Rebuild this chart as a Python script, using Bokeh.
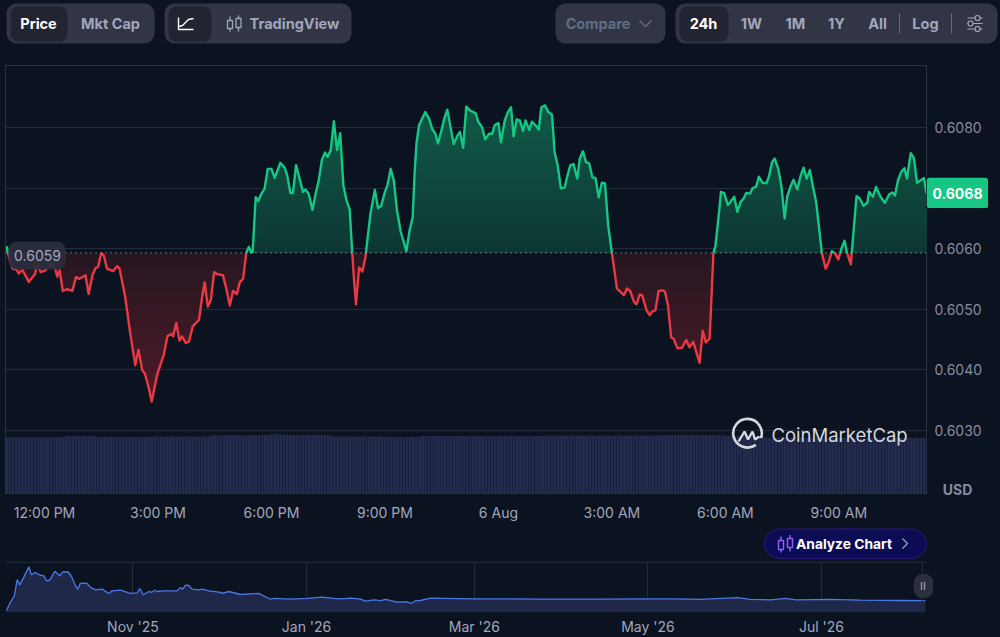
from bokeh.embed import file_html
from bokeh.resources import INLINE
from bokeh.plotting import figure
from bokeh.layouts import column
from bokeh.models import (Range1d, FixedTicker, NumeralTickFormatter, Span, Label, BoxAnnotation)
from bokeh.core.properties import value
import numpy as np

BG = "#0c1320"
FONT = "Inter"

# ---------- data ----------
base_price = 0.60593
last_price = "0.6068"
base_label = "0.6059"
price_ticks = [0.6030, 0.6040, 0.6050, 0.6060, 0.6070, 0.6080]
time_ticks = [0, 180, 360, 540, 720, 900, 1080, 1260]
time_labels = ["12:00 PM", "3:00 PM", "6:00 PM", "9:00 PM", "6 Aug", "3:00 AM", "6:00 AM", "9:00 AM"]
overview_ticks = [0, 61, 120, 181, 242]
overview_labels = ["Nov '25", "Jan '26", "Mar '26", "May '26", "Jul '26"]

price_minutes = [
    -60, -58, -51, -44, -41, -35, -25, -15, -12, -6, 1, 10, 17, 20, 24, 29, 36, 44, 50, 55, 65, 70, 76, 81, 85, 90, 94,
    99, 109, 115, 119, 128, 136, 144, 149, 155, 159, 165, 170, 179, 189, 195, 201, 204, 209, 214, 218, 224, 229, 235,
    240, 245, 250, 254, 259, 264, 269, 274, 283, 289, 294, 299, 305, 310, 315, 320, 324, 328, 330, 335, 339, 344, 349,
    354, 360, 365, 374, 381, 385, 390, 394, 399, 410, 414, 419, 425, 430, 435, 440, 445, 449, 454, 459, 464, 469, 474,
    479, 484, 488, 491, 494, 499, 504, 509, 517, 524, 529, 534, 540, 544, 549, 554, 559, 565, 574, 579, 584, 587, 590,
    594, 604, 610, 615, 620, 624, 629, 634, 639, 644, 649, 655, 659, 664, 669, 676, 684, 688, 694, 699, 705, 710, 714,
    720, 724, 730, 735, 740, 744, 749, 754, 759, 763, 769, 773, 779, 784, 788, 794, 799, 805, 809, 814, 819, 825, 829,
    834, 839, 845, 849, 854, 859, 864, 869, 874, 879, 884, 889, 894, 900, 908, 919, 924, 929, 935, 939, 944, 948, 955,
    960, 964, 969, 974, 980, 984, 989, 994, 998, 1004, 1011, 1018, 1023, 1029, 1039, 1044, 1049, 1055, 1061, 1064, 1070,
    1073, 1078, 1084, 1094, 1099, 1104, 1109, 1113, 1119, 1123, 1129, 1133, 1139, 1145, 1149, 1154, 1158, 1164, 1169,
    1174, 1178, 1183, 1188, 1194, 1199, 1204, 1209, 1214, 1219, 1224, 1233, 1239, 1244, 1249, 1254, 1259, 1264, 1269,
    1273, 1279, 1283, 1288, 1293, 1299, 1305, 1308, 1314, 1319, 1326, 1333, 1340, 1345, 1349, 1354, 1359, 1364, 1368,
    1374, 1379, 1384, 1395, 1399]
price_values = [
    .60604, .60592, .60567, .60565, .60559, .60565, .60545, .60558, .60575, .60561, .60564, .60575, .60567, .60554,
    .60564, .60530, .60533, .60530, .60553, .60550, .60556, .60525, .60556, .60568, .60570, .60593, .60589, .60567,
    .60563, .60571, .60567, .60520, .60460, .60407, .60433, .60399, .60394, .60371, .60347, .60393, .60424, .60455,
    .60459, .60455, .60477, .60448, .60455, .60444, .60446, .60471, .60477, .60482, .60520, .60544, .60504, .60516,
    .60561, .60558, .60556, .60531, .60506, .60530, .60525, .60545, .60550, .60593, .60603, .60594, .60593, .60685,
    .60679, .60691, .60699, .60732, .60732, .60717, .60742, .60734, .60721, .60692, .60692, .60738, .60694, .60698,
    .60691, .60664, .60691, .60713, .60747, .60759, .60752, .60763, .60811, .60763, .60791, .60705, .60680, .60665,
    .60595, .60548, .60508, .60569, .60562, .60586, .60658, .60697, .60667, .60671, .60694, .60705, .60732, .60713,
    .60664, .60628, .60596, .60630, .60652, .60724, .60774, .60804, .60826, .60815, .60798, .60790, .60774, .60793,
    .60815, .60830, .60801, .60773, .60787, .60793, .60767, .60835, .60828, .60824, .60810, .60801, .60781, .60790,
    .60790, .60804, .60808, .60776, .60812, .60826, .60834, .60786, .60814, .60812, .60795, .60812, .60796, .60810,
    .60804, .60797, .60834, .60837, .60826, .60822, .60760, .60738, .60700, .60701, .60719, .60738, .60740, .60716,
    .60749, .60761, .60743, .60741, .60718, .60717, .60685, .60709, .60708, .60639, .60593, .60534, .60523, .60534,
    .60530, .60512, .60508, .60524, .60523, .60498, .60490, .60496, .60498, .60530, .60531, .60529, .60506, .60453,
    .60451, .60435, .60436, .60449, .60437, .60446, .60411, .60464, .60445, .60451, .60593, .60603, .60661, .60694,
    .60692, .60672, .60686, .60661, .60677, .60683, .60692, .60691, .60700, .60703, .60719, .60709, .60708, .60719,
    .60743, .60749, .60732, .60702, .60650, .60686, .60702, .60714, .60698, .60719, .60734, .60716, .60730, .60702,
    .60677, .60593, .60567, .60578, .60596, .60592, .60582, .60600, .60613, .60593, .60574, .60625, .60687, .60683,
    .60671, .60676, .60694, .60686, .60702, .60686, .60676, .60690, .60693, .60688, .60714, .60727, .60733, .60716,
    .60758, .60750, .60709, .60717, .60691]

volume_start_minute = -60
volume_step_minutes = 5
volumes = [
    56.3, 56.2, 56.3, 56.4, 56.3, 56.2, 56.3, 56.3, 56.4, 56.3, 56.2, 56.3, 56.4, 56.3, 56.3, 56.2, 56.3, 56.4, 56.5,
    57.3, 57.4, 57.3, 57.2, 57.3, 57.3, 57.4, 57.3, 57.2, 57.2,
    56.5, 56.6, 56.5, 56.4, 56.5, 56.5, 56.6, 56.5, 56.4, 56.5, 56.6, 56.5, 56.5, 56.4, 56.5, 56.6, 56.6,
    57.0, 57.1, 57.0, 56.9, 57.0, 57.1, 57.0, 57.0, 56.9, 57.0, 57.1, 57.0, 57.2, 57.0, 57.1, 57.0, 56.9, 57.0, 57.3,
    58.2, 58.3, 58.2, 58.1, 58.2, 58.3, 58.2, 58.2, 58.3, 58.2, 58.1, 58.2, 58.3, 58.2, 58.4, 58.2, 58.3, 58.5, 58.6,
    59.0, 59.4, 58.9, 59.3, 58.9,
    58.5, 58.6, 58.5, 58.4, 58.5, 58.5, 58.6, 58.5, 58.4, 58.5, 58.6, 58.5, 58.3, 58.4, 58.0,
    57.0, 57.1, 57.0, 56.9, 57.0, 57.1, 57.0, 57.0, 56.9, 57.0, 57.1, 57.0, 56.9, 57.0, 57.1, 57.0, 56.8,
    56.5, 56.4, 56.5, 56.6, 56.5, 56.4, 56.5, 56.6, 56.5, 56.7, 57.0,
    57.5, 57.6, 57.5, 57.4, 57.5, 57.6, 57.5, 57.5, 57.4, 57.5, 57.6, 57.5, 57.4, 57.5,
    57.3, 57.2, 57.3, 57.4, 57.3, 57.2, 57.3, 57.3, 57.4, 57.3, 57.2, 57.3, 57.4, 57.3, 57.3, 57.2, 57.3, 57.4, 57.3,
    57.2, 57.3, 57.3, 57.4, 57.5, 57.6,
    58.0, 58.1, 58.0, 57.9, 58.0, 58.1, 58.0, 58.0, 57.9, 58.0, 58.1, 58.0, 58.0, 57.9, 58.0, 58.1, 58.0, 58.0, 57.9,
    58.0, 58.1, 58.0, 58.0, 57.9, 58.0, 58.1, 58.0, 58.0, 57.9, 58.0, 58.1, 58.0, 58.0, 57.9, 58.0, 58.1, 58.2, 58.3,
    58.5, 58.6, 58.5, 58.4, 58.5, 58.6, 58.5, 58.5, 58.4, 58.5, 58.6, 58.5, 58.4, 58.3, 58.4, 58.3, 58.2, 58.2, 58.1,
    58.0, 58.0, 57.9,
    57.5, 57.6, 57.5, 57.4, 57.5, 57.5, 57.4, 57.3, 57.2, 57.0,
    55.7, 55.8, 55.7, 55.6, 55.7, 55.7, 55.8, 55.7, 55.6, 55.7, 55.8, 55.7, 55.7, 55.6, 55.7, 55.8, 55.7, 55.7, 55.6,
    55.7, 55.8, 55.7, 55.7, 55.6, 55.7, 55.8, 55.7, 55.7, 55.6, 55.7, 55.8, 55.7, 55.7, 55.6, 55.7, 55.8, 55.7, 55.7,
    55.6, 55.7, 55.8, 55.7, 55.7, 55.6, 55.7, 55.8, 55.7, 55.7, 55.6, 55.7, 55.8, 55.7]

overview_days = [
    -44.5, -43.1, -41.7, -40.7, -39.8, -38.4, -36.6, -35.7, -34.5, -32.7, -31.3, -30.4, -29.2, -27.5, -25.7, -24.7,
    -22.8, -21.6, -20.2, -19.4, -18.5, -16.3, -14.9, -13.2, -10.8, -8.5, -7.3, -4.4, -0.9, 1.5, 2.4, 3.6, 5.6, 6.5, 7.7,
    8.5, 10.8, 15.5, 16.7, 17.5, 18.5, 19.6, 20.8, 23.1, 24.3, 26.7, 30.8, 31.3, 33.7, 37.8, 44.2, 48.3, 49.5, 55.4,
    61.2, 66.5, 70.6, 73.5, 76.5, 80.0, 81.7, 84.7, 87.0, 88.8, 92.8, 96.4, 97.8, 99.3, 101, 104.6, 109.3, 119.8, 129.2,
    143, 164, 182, 190.7, 199.5, 212.5, 217, 224, 229.3, 233, 245, 255.7, 269.8, 278.5]
overview_prices = [
    .08, .47, .78, 1.54, 1.29, 1.64, 2.13, 1.76, 1.87, 1.75, 1.71, 1.48, 1.51, 1.92, 1.71, 1.90, 1.89, 1.68, 1.25, 1.09,
    1.36, 1.37, 1.17, 1.06, 1.09, .89, 1.01, 1.04, .89, .92, 1.12, .83, .98, .94, 1.04, .98, 1.01, 1.01, 1.17, 1.09,
    1.28, 1.26, 1.09, 1.06, 1.09, 1.01, .94, .89, .98, .84, .89, .62, .66, .62, .66, .72, .66, .64, .67, .62, .53, .59,
    .55, .61, .48, .50, .42, .55, .56, .67, .66, .64, .64, .62, .62, .64, .64, .61, .69, .61, .59, .66, .59, .61, .58,
    .56, .55]


def chrome_figure(x0, x1, y0, y1, page_bottom=None):
    """A figure in page pixels; page_bottom lifts it over what was laid out before it."""
    kw = {}
    if page_bottom is not None:
        kw["margin"] = (y0 - page_bottom, 0, page_bottom - y1, x0)
    f = figure(width=x1 - x0, height=y1 - y0, x_range=Range1d(x0, x1), y_range=Range1d(y1, y0),
               x_axis_type=None, y_axis_type=None, output_backend="svg", toolbar_location=None, min_border=0,
               background_fill_color=BG, border_fill_color=BG, outline_line_color=BG, outline_line_width=2, **kw)
    f.grid.visible = False
    return f


def chrome_text(f, x, y, text, color, size="14.5px", style="bold", align="center"):
    f.text([x], [y], text=[text], text_color=color, text_font=value(FONT), text_font_size=size,
           text_font_style=style, text_align=align, text_baseline="middle")


def rounded(f, l, r, t, b, color, radius=8, **kw):
    f.quad(left=[l], right=[r], top=[t], bottom=[b], fill_color=color, line_color=kw.pop("line", None),
           border_radius=radius, **kw)


# ---------- top control bar ----------
top = chrome_figure(0, 1000, 0, 60)
PILL, ACTIVE, MUTED = "#323546", "#222531", "#a1a7bb"
rounded(top, 6, 154, 3, 43, PILL, 10)
rounded(top, 10, 67, 6, 41, ACTIVE)
chrome_text(top, 38, 22.5, "Price", "#ffffff")
chrome_text(top, 110, 22.5, "Mkt Cap", MUTED)
rounded(top, 164, 351, 3, 43, PILL, 10)
rounded(top, 168, 211, 6, 41, ACTIVE)
top.line([178, 178, 193], [17, 29, 29], line_color="#ffffff", line_width=1.4)
top.line([178, 182, 185, 188, 193], [26, 25, 22, 19, 18], line_color="#ffffff", line_width=1.4)
for cx, c_top, c_bot, w_top, w_bot in [(229.5, 20, 28, 16, 31), (238, 18, 27, 15, 31)]:
    top.segment([cx, cx], [w_top, c_bot], [cx, cx], [c_top, w_bot], line_color=MUTED, line_width=1.3)
    top.quad(left=[cx - 2.5], right=[cx + 2.5], top=[c_top], bottom=[c_bot], fill_color=None, line_color=MUTED,
             line_width=1.3)
chrome_text(top, 294, 22.5, "TradingView", MUTED)
rounded(top, 555, 665, 3, 43, PILL, 10)
chrome_text(top, 597.5, 22.5, "Compare", "#616e85")
top.line([639, 645, 651], [20, 26, 20], line_color="#616e85", line_width=1.4)
rounded(top, 675, 997, 3, 43, PILL, 10)
rounded(top, 679, 728, 6, 41, ACTIVE)
chrome_text(top, 703, 22.5, "24h", "#ffffff")
for tx, label in [(751, "1W"), (795, "1M"), (836, "1Y"), (877, "All"), (925, "Log")]:
    chrome_text(top, tx, 22.5, label, MUTED)
top.segment([899, 951], [13, 13], [899, 951], [33, 33], line_color="#616e85", line_width=1)
top.segment([967, 967, 967], [17.5, 23, 28.5], [982, 982, 982], [17.5, 23, 28.5], line_color=MUTED, line_width=1.2)
top.scatter([977, 970, 977], [17.5, 23, 28.5], size=5, marker="circle", fill_color=PILL, line_color=MUTED,
            line_width=1.2)

# ---------- main chart ----------
x_lo, x_hi = -61.9, 1399
p = figure(width=1000, height=463, x_range=Range1d(x_lo, x_hi), y_range=Range1d(0.60195, 0.60903),
           output_backend="svg", toolbar_location=None, y_axis_location="right",
           min_border_left=5, min_border_right=74, min_border_top=5, min_border_bottom=30,
           background_fill_color=BG, border_fill_color=BG, outline_line_color="#2b3242")
p.extra_x_ranges["px"] = Range1d(5, 926)
p.extra_y_ranges["px"] = Range1d(493, 65)
p.extra_y_ranges["vol"] = Range1d(0, 428)
p.xgrid.visible = False
p.ygrid.grid_line_color = "#242b3a"
p.ygrid.ticker = FixedTicker(ticks=price_ticks)
p.yaxis.ticker = FixedTicker(ticks=price_ticks)
p.yaxis.formatter = NumeralTickFormatter(format="0.0000")
p.xaxis.ticker = FixedTicker(ticks=time_ticks)
p.xaxis.major_label_overrides = dict(zip(time_ticks, time_labels))
for ax in (p.xaxis[0], p.yaxis[0]):
    ax.axis_line_color = None
    ax.major_tick_line_color = None
    ax.minor_tick_line_color = None
    ax.major_tick_out = 0
    ax.major_tick_in = 0
    ax.minor_tick_out = 0
    ax.minor_tick_in = 0
    ax.major_label_text_font = FONT
    ax.major_label_text_font_size = "14px"
p.xaxis.major_label_text_color = "#a1a7bb"
p.yaxis.major_label_text_color = "#858ca2"
p.xaxis.major_label_standoff = 10
p.yaxis.major_label_standoff = 8

vol_x = [volume_start_minute + volume_step_minutes * i for i in range(len(volumes))]
p.vbar(x=vol_x, top=volumes, bottom=0, width=4.4, fill_color="#232c4e", line_color=None, y_range_name="vol")

# split the line where it crosses the opening price
t_all, v_all = [price_minutes[0]], [price_values[0]]
for i in range(1, len(price_values)):
    a, b = price_values[i - 1] - base_price, price_values[i] - base_price
    if a * b < 0:
        t_all.append(price_minutes[i - 1] + (price_minutes[i] - price_minutes[i - 1]) * a / (a - b))
        v_all.append(base_price)
    t_all.append(price_minutes[i])
    v_all.append(price_values[i])
t_all, v_all = np.array(t_all), np.array(v_all)


def lerp(c0, c1, f):
    return "#" + "".join(f"{int(round(a + (b - a) * f)):02x}" for a, b in zip(c0, c1))


N = 26
up = np.maximum(v_all, base_price)
dn = np.minimum(v_all, base_price)
up_max, dn_min = v_all.max(), v_all.min()
for k in range(N, 0, -1):
    f = k / N
    p.varea(t_all, np.full_like(up, base_price), np.minimum(up, base_price + (up_max - base_price) * f),
            fill_color=lerp((0x0e, 0x36, 0x33), (0x0f, 0x5a, 0x47), f))
    p.varea(t_all, np.full_like(dn, base_price), np.maximum(dn, base_price + (dn_min - base_price) * f),
            fill_color=lerp((0x26, 0x17, 0x22), (0x4c, 0x1a, 0x27), f))

seg_t, seg_v, seg_c = [], [], []
start = 0
for i in range(1, len(v_all)):
    if v_all[i] == base_price or i == len(v_all) - 1:
        mid = v_all[start:i + 1].mean()
        seg_t.append(t_all[start:i + 1])
        seg_v.append(v_all[start:i + 1])
        seg_c.append("#16c784" if mid >= base_price else "#ea3943")
        start = i
p.multi_line(seg_t, seg_v, line_color=seg_c, line_width=2.4, line_join="round")

p.add_layout(Span(location=base_price, dimension="width", line_color="#c4c8d4", line_width=1, line_dash="1 4"))

# CoinMarketCap mark, drawn in reference pixels
p.arc([747], [432.7], radius=14.3, radius_units="screen", start_angle=-0.35, end_angle=-0.95, line_color="#d5d8de",
      line_width=2.6, x_range_name="px", y_range_name="px")
p.line([738, 744, 747.5, 752, 754.5, 759], [441, 431, 439, 431, 439, 436], line_color="#d5d8de", line_width=2.4,
       x_range_name="px", y_range_name="px")
p.text([771], [434], text=["CoinMarketCap"], text_color="#d5d8de", text_font=value(FONT), text_font_size="18.5px",
       text_font_style="normal", text_align="left", text_baseline="middle", x_range_name="px", y_range_name="px")

# opening-price tag, inside the frame
p.add_layout(BoxAnnotation(left=8, right=65, top=241, bottom=269, fill_color="#2a2f3e", fill_alpha=0.92, line_alpha=0,
                           border_radius=8, x_range_name="px", y_range_name="px", editable=False))
p.add_layout(Label(x=37, y=255, text=base_label, text_color="#a1a7bb", text_font=FONT, text_font_size="14px",
                   text_align="center", text_baseline="middle", x_range_name="px", y_range_name="px"))

# last-price tag and unit, laid over the axis column
tag = chrome_figure(926, 988, 177, 208, page_bottom=523)
rounded(tag, 926, 988, 177, 208, "#16c784", 4)
chrome_text(tag, 957, 192.5, last_price, "#ffffff", size="14px")
usd = chrome_figure(935, 985, 480, 498, page_bottom=523)
chrome_text(usd, 957, 489, "USD", "#858ca2", size="14px")
# page-coloured covers over the main figure's top and left canvas edges
main_top_cover = chrome_figure(0, 1000, 50, 64, page_bottom=523)
main_left_cover = chrome_figure(0, 3, 60, 523, page_bottom=523)

# ---------- spacer between the main chart and the overview ----------
strip = chrome_figure(0, 1000, 523, 560)

# ---------- overview ----------
ov = figure(width=1000, height=77, x_range=Range1d(-44.8, 278.9), y_range=Range1d(0, 2.38), y_axis_type=None,
            output_backend="svg", toolbar_location=None, min_border_left=5, min_border_right=74, min_border_top=1,
            min_border_bottom=25, background_fill_color=BG, border_fill_color=BG, outline_line_color=BG,
            outline_line_width=2)
ov.ygrid.visible = False
ov.xgrid.grid_line_color = "#242b3a"
ov.xgrid.ticker = FixedTicker(ticks=overview_ticks)
ov.xaxis.ticker = FixedTicker(ticks=overview_ticks)
ov.xaxis.major_label_overrides = dict(zip(overview_ticks, overview_labels))
ov.xaxis.axis_line_color = None
ov.xaxis.major_tick_line_color = None
ov.xaxis.minor_tick_line_color = None
ov.xaxis.major_tick_out = 0
ov.xaxis.major_tick_in = 0
ov.xaxis.minor_tick_out = 0
ov.xaxis.minor_tick_in = 0
ov.xaxis.major_label_text_font = FONT
ov.xaxis.major_label_text_font_size = "14px"
ov.xaxis.major_label_text_color = "#a1a7bb"
ov.xaxis.major_label_standoff = 5
ov.add_layout(Span(location=277.4, dimension="height", line_color="#242b3a", line_width=1))
ov.varea(overview_days, [0] * len(overview_days), overview_prices, fill_color="#1f2848")
ov.line(overview_days, overview_prices, line_color="#4a78e8", line_width=1.3)

ov_top_cover = chrome_figure(0, 1000, 552, 563, page_bottom=637)
ov_top_cover.segment([5], [560.8], [926], [560.8], line_color="#242b3a", line_width=1)
ov_left_cover = chrome_figure(0, 3, 560, 637, page_bottom=637)

# ---------- Analyze Chart pill, above the covers ----------
pill = chrome_figure(760, 930, 524, 560, page_bottom=637)
pill.patch([840, 845, 850], [529, 525.5, 529], fill_color="#0b0c54", line_color=None)
rounded(pill, 764, 926, 528.5, 558, "#0b0c54", 15, line="#2a1a78")
for cx, c_top, c_bot, w_top, w_bot in [(780.5, 540, 549, 536, 552), (789.5, 538, 547, 534.5, 551)]:
    pill.segment([cx, cx], [w_top, c_bot], [cx, cx], [c_top, w_bot], line_color="#8b5cf6", line_width=1.5)
    pill.quad(left=[cx - 2.5], right=[cx + 2.5], top=[c_top], bottom=[c_bot], fill_color=None,
              line_color="#8b5cf6", line_width=1.5)
chrome_text(pill, 843.5, 543, "Analyze Chart", "#ffffff", size="13.8px")
pill.line([902, 907, 902], [538, 543, 548], line_color="#a1a7bb", line_width=1.2)

pause = chrome_figure(913, 933, 573, 598, page_bottom=637)
rounded(pause, 913, 933, 573, 598, "#2b2f3c", 10)
chrome_text(pause, 922.5, 585.5, "II", "#a1a7bb", size="11px", style="normal")

page = column(column(top), column(p), tag, usd, main_top_cover, main_left_cover, column(strip), column(ov),
              ov_top_cover, ov_left_cover, pill, pause, spacing=0)
open("out.html", "w").write(file_html(page, INLINE))
